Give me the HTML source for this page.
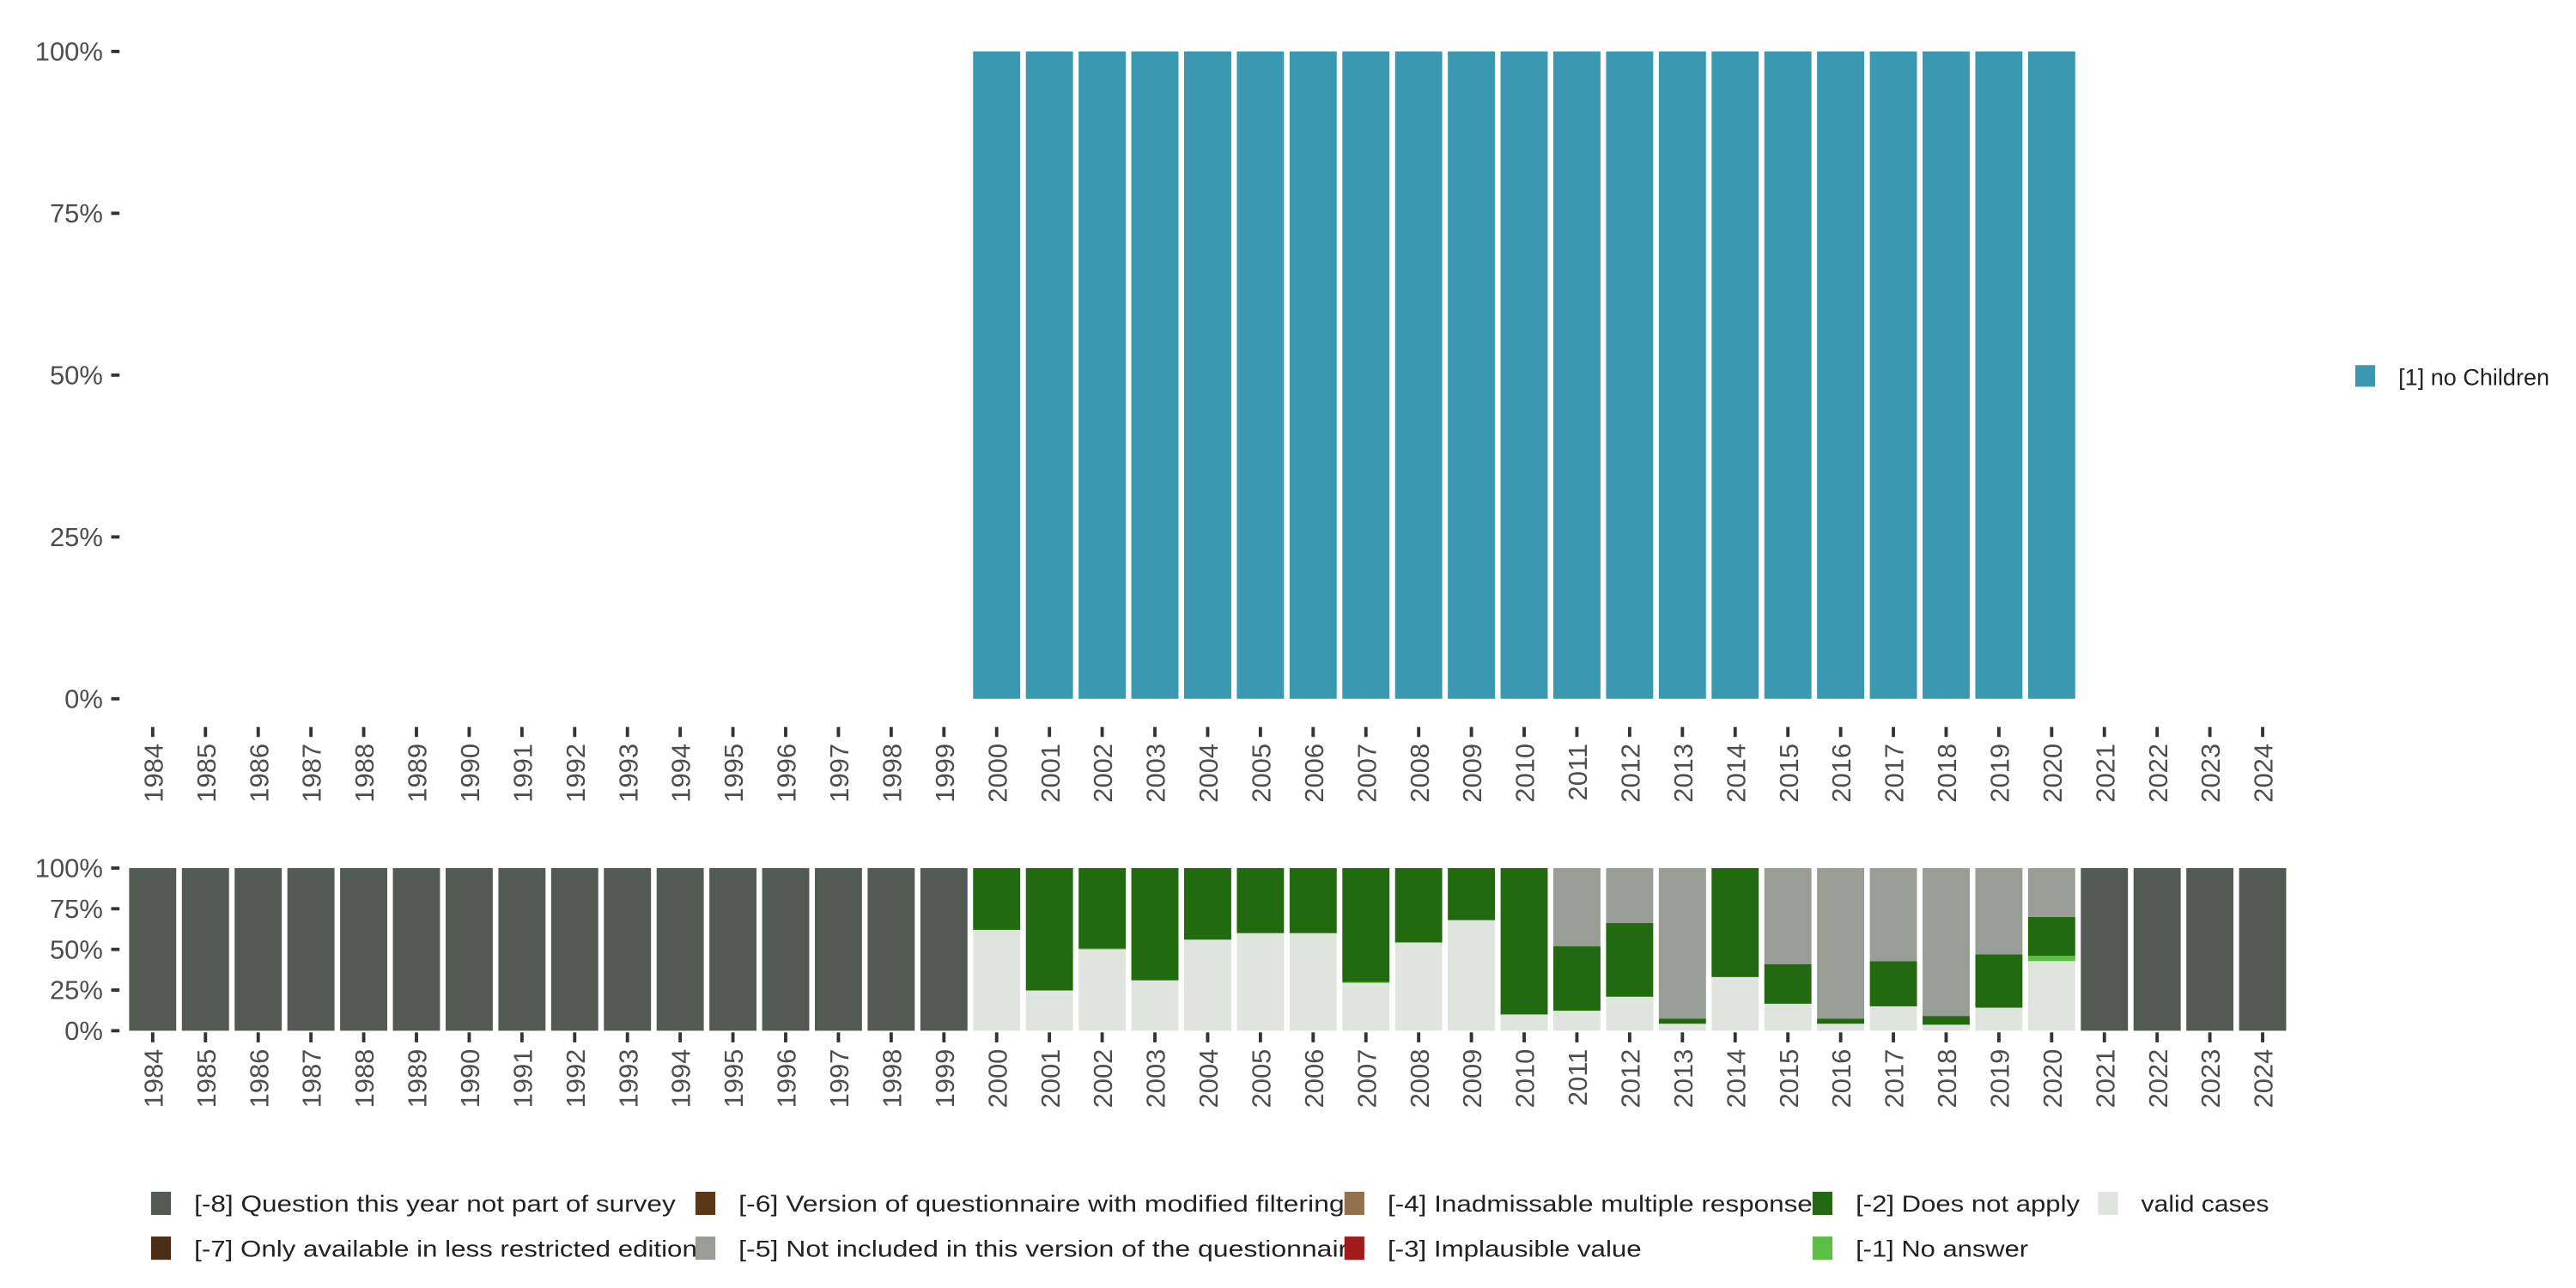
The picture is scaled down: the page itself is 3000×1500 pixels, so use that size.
<!DOCTYPE html>
<html><head><meta charset="utf-8"><style>
html,body{margin:0;padding:0;background:#fff;}
svg{display:block;font-family:"Liberation Sans",sans-serif;}
</style></head><body>
<svg id="chart" width="3000" height="1500" viewBox="0 0 1552 776" preserveAspectRatio="none" xmlns="http://www.w3.org/2000/svg">
<g id="top"></g>
<g id="bottom"></g>
<g id="legend"></g>
</svg>
<script>
const years = [];
for (let y = 1984; y <= 2024; y++) years.push(y);
const topValues = [0,0,0,0,0,0,0,0,0,0,0,0,0,0,0,0,1,1,1,1,1,1,1,1,1,1,1,1,1,1,1,1,1,1,1,1,1,0,0,0,0];
const yTicks = [0, 0.25, 0.5, 0.75, 1];
const yTickLabels = ["0%","25%","50%","75%","100%"];
// bottom panel shares (years 2000-2020), others are [-8]
const validVals = [0.62,0.245,0.5,0.31,0.56,0.60,0.60,0.294,0.54,0.68,0.10,0.123,0.209,0.043,0.33,0.166,0.043,0.15,0.037,0.139,0.428];
const na1Vals   = [0,0.005,0.005,0,0,0,0,0.005,0.005,0,0,0,0,0,0,0,0,0,0,0.005,0.032];
const na2Vals   = [0.38,0.75,0.495,0.69,0.44,0.40,0.40,0.701,0.455,0.32,0.90,0.396,0.454,0.032,0.67,0.244,0.032,0.278,0.054,0.326,0.24];
const na5Vals   = [0,0,0,0,0,0,0,0,0,0,0,0.481,0.337,0.925,0,0.59,0.925,0.572,0.909,0.53,0.30];
const firstDataYear = 2000;

const C = {valid:"#E0E4DF", na1:"#5BBF43", na2:"#216A0F", na5:"#999D96", na8:"#535A53", teal:"#3A98B0"};
const NS = "http://www.w3.org/2000/svg";
function mk(tag, attrs, parent){const e=document.createElementNS(NS,tag);for(const k in attrs)e.setAttribute(k,attrs[k]);parent.appendChild(e);return e;}

const step = 31.78, x0 = 92, bw = 28.4;
const xPos = y => x0 + (y - 1984) * step;

function axis(g, top, bot, labY, prefix){
  const yS = v => bot - v * (bot - top);
  yTicks.forEach((v,i)=>{
    const t = mk('line',{x1:67,x2:72,y1:yS(v),y2:yS(v),stroke:'#333','stroke-width':2},g);
    
    
    const l = mk('text',{x:62,y:yS(v)+5.5,'text-anchor':'end','font-size':16,fill:'#4d4d4d'},g);
    l.textContent = yTickLabels[i];
    
    
  });
  years.forEach(y=>{
    const x = xPos(y);
    const t = mk('line',{x1:x,x2:x,y1:labY-6,y2:labY,stroke:'#333','stroke-width':2},g);
    
    
    const l = mk('text',{x:0,y:0,'font-size':16,fill:'#4d4d4d','text-anchor':'end',transform:`translate(${x+6},${labY+4}) rotate(-90)`},g);
    l.textContent = y;
    
    
  });
  return yS;
}

// top panel
const gt = document.getElementById('top');
const yT = axis(gt, 31, 421, 444, 'top');
years.forEach((y,i)=>{
  if(!topValues[i]) return;
  const r = mk('rect',{x:xPos(y)-bw/2,y:yT(topValues[i]),width:bw,height:yT(0)-yT(topValues[i]),fill:C.teal},gt);
  
  
});
// top legend
const tl = mk('rect',{x:1419,y:220,width:12,height:13,fill:C.teal},gt);


const tt = mk('text',{x:1445,y:232,'font-size':14,fill:'#222'},gt);
tt.textContent='[1] no Children';



// bottom panel
const gb = document.getElementById('bottom');
const yB = axis(gb, 523, 621, 628, 'bottom');
years.forEach(y=>{
  const i = y - firstDataYear;
  let segs;
  if(i < 0 || i >= validVals.length) segs = [[1,C.na8,'na8']];
  else segs = [[validVals[i],C.valid,'valid'],[na1Vals[i],C.na1,'na1'],[na2Vals[i],C.na2,'na2'],[na5Vals[i],C.na5,'na5']];
  let cum = 0;
  segs.forEach(s=>{
    if(s[0] <= 0) return;
    const r = mk('rect',{x:xPos(y)-bw/2,y:yB(cum+s[0]),width:bw,height:yB(cum)-yB(cum+s[0]),fill:s[1]},gb);
    
    
    cum += s[0];
  });
});

// bottom legend
const legItems = [
  [91,725,"#535A53","[-8] Question this year not part of survey",290],
  [91,752,"#4A2E16","[-7] Only available in less restricted edition",303],
  [419,725,"#5A3817","[-6] Version of questionnaire with modified filtering",365],
  [419,752,"#999D96","[-5] Not included in this version of the questionnaire",376],
  [810,725,"#93704E","[-4] Inadmissable multiple response",256],
  [810,752,"#A31A1A","[-3] Implausible value",153],
  [1092,725,"#216A0F","[-2] Does not apply",135],
  [1092,752,"#5BBF43","[-1] No answer",104],
  [1264,725,"#E0E4DF","valid cases",77]
];
const gl = document.getElementById('legend');
legItems.forEach(it=>{
  const r = mk('rect',{x:it[0],y:it[1]-7,width:12,height:14,fill:it[2]},gl);
  
  
  const t = mk('text',{x:it[0]+26,y:it[1]+5,'font-size':14,fill:'#222',textLength:it[4],lengthAdjust:'spacingAndGlyphs'},gl);
  t.textContent = it[3];
  
  
});
</script>
</body></html>
